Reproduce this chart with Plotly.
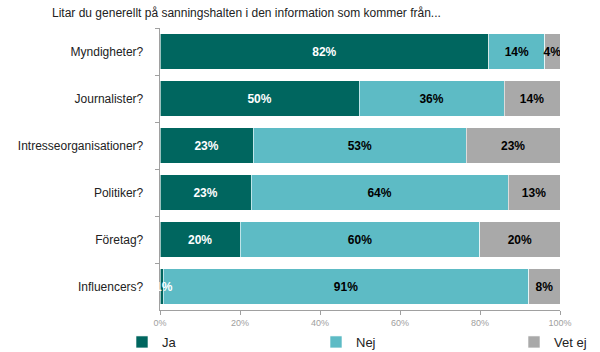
import plotly.graph_objects as go

categories = ["Myndigheter?", "Journalister?", "Intresseorganisationer?", "Politiker?", "Företag?", "Influencers?"]
ja = [82.2, 49.8, 23.3, 22.8, 20.1, 0.8]
nej = [14.0, 36.2, 53.3, 64.2, 59.8, 91.4]
vet_ej = [3.8, 14.0, 23.4, 13.0, 20.1, 7.8]
tick_vals = [0, 20, 40, 60, 80, 100]
tick_text = ["0%", "20%", "40%", "60%", "80%", "100%"]

series = [
    ("Ja", ja, "#00665F", "white", "legend", 122),
    ("Nej", nej, "#5DBBC5", "black", "legend2", 316),
    ("Vet ej", vet_ej, "#A9A9A9", "black", "legend3", 514),
]

fig = go.Figure()
for name, vals, color, tcolor, leg, lx in series:
    texts = [f"{v:.0f}%" for v in vals]
    if name == "Ja":
        texts = [t if v >= 5 else "" for t, v in zip(texts, vals)]
    fig.add_trace(go.Bar(
        y=categories, x=vals, name=name, orientation="h",
        marker=dict(color=color, line=dict(color="white", width=0.6)),
        text=texts, textposition="inside", insidetextanchor="middle",
        textangle=0,
        textfont=dict(color=tcolor, size=12, family="Liberation Sans"),
        texttemplate="<b>%{text}</b>",
        hoverinfo="skip",
        legend=leg,
    ))

# small Ja label that overflows its bar
for c, v in zip(categories, ja):
    if v < 5:
        fig.add_annotation(x=v / 2 + 0.6, y=c, text=f"<b>{v:.0f}%</b>", showarrow=False,
                           font=dict(color="white", size=12, family="Liberation Sans"),
                           xanchor="center", yanchor="middle")

leg_common = dict(orientation="h", xref="container", yref="container",
                  y=1 - 327 / 352, yanchor="top", xanchor="left",
                  itemwidth=30, bgcolor="rgba(0,0,0,0)",
                  font=dict(size=13, color="#222222", family="Liberation Sans"))

layout_legends = {}
for name, vals, color, tcolor, leg, lx in series:
    layout_legends[leg] = dict(x=lx / 600, **leg_common)

fig.update_layout(
    barmode="stack",
    bargap=0.25,
    width=600, height=352,
    margin=dict(l=160, r=40, t=28, b=42, autoexpand=False),
    plot_bgcolor="white", paper_bgcolor="white",
    font=dict(family="Liberation Sans", color="#222222"),
    uniformtext=dict(minsize=8, mode="show"),
    title=dict(text="Litar du generellt på sanningshalten i den information som kommer från...",
               x=52 / 600, xanchor="left", y=1 - 13 / 352, yanchor="middle",
               font=dict(size=12, color="#222222", family="Liberation Sans")),
    showlegend=True,
    **layout_legends,
)
fig.update_yaxes(autorange="reversed", showline=True, linecolor="#A0A0A0", linewidth=1,
                 ticks="outside", tickson="boundaries", ticklen=4, tickcolor="#A0A0A0",
                 tickfont=dict(size=12, color="#222222", family="Liberation Sans"),
                 ticksuffix="    ")
fig.update_xaxes(range=[0, 100], tickvals=tick_vals, ticktext=tick_text, showline=True,
                 linecolor="#A0A0A0", linewidth=1, ticks="outside", ticklen=4,
                 tickcolor="#A0A0A0", showgrid=False, zeroline=False,
                 tickfont=dict(size=9, color="#A0A0A0", family="Liberation Sans"))

fig.write_html("out.html")
